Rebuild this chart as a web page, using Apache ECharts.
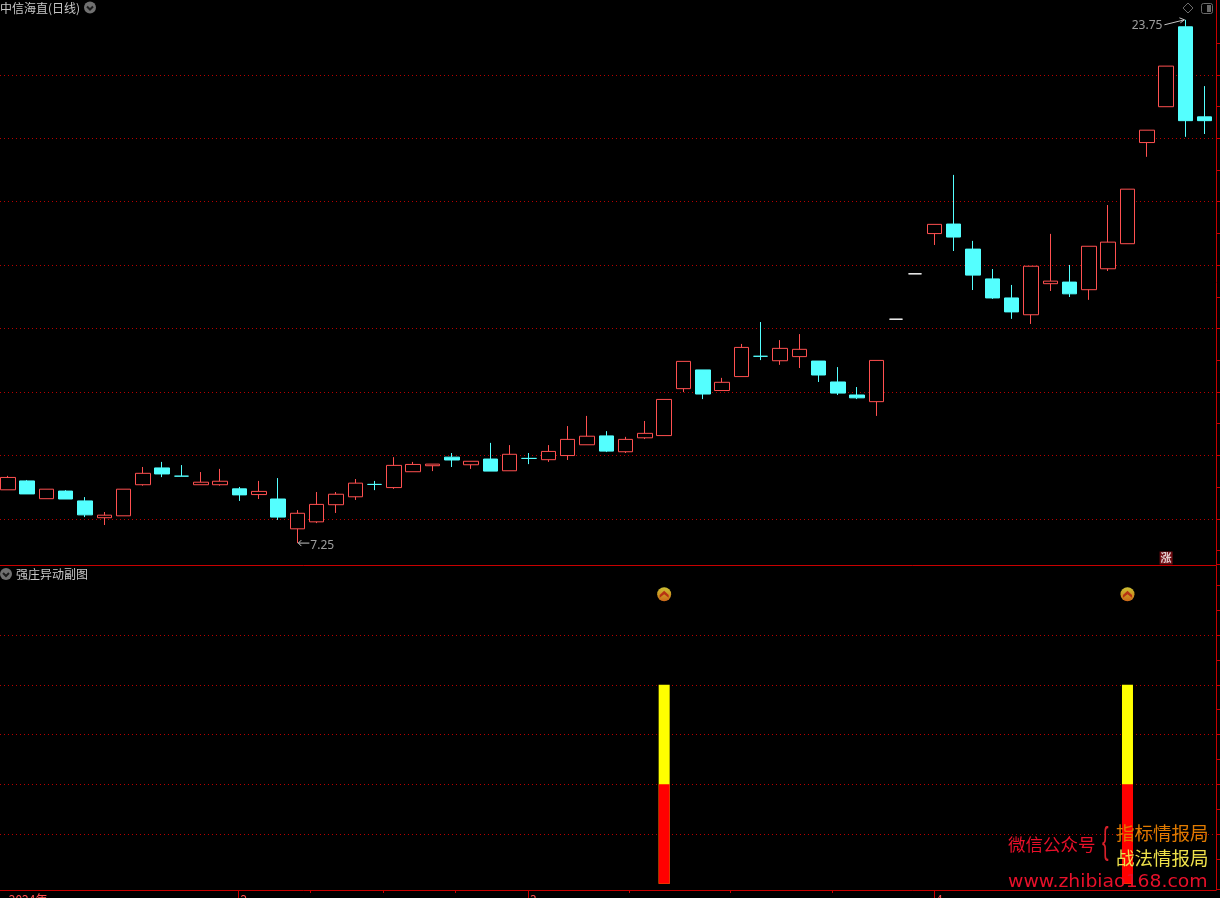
<!DOCTYPE html>
<html>
<head>
<meta charset="utf-8">
<style>html,body{margin:0;padding:0;background:#000;overflow:hidden}#c{width:1220px;height:898px}</style>
<script src="https://cdn.jsdelivr.net/npm/echarts@6/dist/echarts.min.js"></script>
</head>
<body>
<div id="c"></div>
<script>
// Daily prices, one entry per session (session number = array position)
const opens = [8.93,9.21,8.65,8.89,8.58,8.05,8.11,9.09,9.62,9.36,9.09,9.09,8.96,8.78,8.64,7.70,7.92,8.46,8.71,9.10,9.00,
  9.50,9.69,9.96,9.72,9.90,9.53,9.92,9.88,10.01,10.35,10.63,10.13,10.57,10.64,12.12,12.71,12.06,12.50,13.14,13.00,13.13,
  12.99,12.33,11.92,11.71,14.31,15.74,17.01,17.31,16.52,15.58,14.98,14.45,15.43,15.48,15.24,15.90,16.69,19.88,21.01,23.53,20.69];
const closes = [9.32,8.80,8.95,8.64,8.14,8.13,8.95,9.45,9.43,9.36,9.17,9.20,8.77,8.88,8.07,8.19,8.47,8.79,9.14,9.10,9.70,
  9.73,9.74,9.87,9.83,9.52,10.05,9.92,10.14,10.52,10.62,10.15,10.52,10.71,11.78,12.98,11.95,12.32,13.42,13.14,13.39,13.36,
  12.55,11.98,11.83,13.01,14.31,15.74,17.30,16.90,15.70,14.98,14.54,15.98,15.51,15.11,16.61,16.74,18.41,20.27,22.29,20.57,20.57];
const lows = [8.93,8.80,8.65,8.64,8.07,7.82,8.11,9.06,9.33,9.36,9.09,9.06,8.58,8.64,7.98,7.25,7.88,8.20,8.61,8.92,8.96,
  9.50,9.52,9.65,9.59,9.52,9.53,9.74,9.81,9.87,10.35,10.12,10.09,10.53,10.64,12.01,11.79,12.06,12.50,13.02,12.87,12.77,
  12.33,11.92,11.79,11.26,14.31,15.74,16.65,16.46,15.23,14.95,14.32,14.16,15.20,15.01,14.92,15.83,16.69,19.43,21.01,20.06,20.15];
const highs = [9.37,9.24,8.95,8.92,8.70,8.23,8.95,9.65,9.81,9.71,9.49,9.59,9.02,9.21,9.30,8.29,8.86,8.86,9.27,9.21,9.96,
  9.81,9.74,10.09,9.83,10.41,10.34,10.09,10.34,10.94,11.26,10.78,10.60,11.10,11.78,12.98,12.71,12.46,13.53,14.22,13.65,13.84,
  12.99,12.80,12.17,13.01,14.31,15.74,17.30,18.86,16.78,15.89,15.39,15.98,17.00,16.02,16.61,17.91,18.41,20.27,22.29,23.75,21.66];
const flatDays = [46,47];
const lowDay = 15, lowPrice = 7.25, highDay = 61, highPrice = 23.75;
const riseFlagDay = 60, riseFlagPrice = 6.78;

// Indicator panel
const signalDays = [34,58];
const redTops = [2,2];
const yellowTops = [4,4];
const signalLevel = 5.82;

// Axis ticks
const priceGrid = [8,10,12,14,16,18,20,22];
const priceMinor = [6.56,7,9,11,13,15,17,19,21,23];
const subGrid = [1,2,3,4,5];
const subMinor = [-0.11,0.5,1.5,2.5,3.5,4.5,5.5,6];
const majorTicks = [11.95,26.95,47.98];
const minorTicks = [15.68,19.44,23.19,32.2,37.43,42.72];
const labelSpots = [0.05,12.05,27.05,48.08];
const labelTexts = ['2024年','2','3','4'];

const RED='#ff5050', CYAN='#54ffff', AXIS='#c80000', GRID='#b80000';
const X_MIN=-0.404, X_MAX=62.585, P_MIN=6.543, P_MAX=24.361, S_MIN=-0.1236, S_MAX=6.389;
const candleAll = opens.map((o,i)=>[i,o,closes[i],lows[i],highs[i]]);
const candleMain = candleAll.filter(d=>!flatDays.includes(d[0]));
const candleFlat = candleAll.filter(d=>flatDays.includes(d[0]));

const chart = echarts.init(document.getElementById('c'),null,{renderer:'canvas'});
const ctext=(x,y,t,f,c,extra)=>({type:'text',x,y,silent:true,z:50,style:Object.assign({text:t,fontSize:f,fontFamily:'"Noto Sans CJK SC"',fill:c,textVerticalAlign:'middle',textAlign:'left'},extra||{})});
const badge=(x,y)=>([
  {type:'circle',shape:{cx:x,cy:y,r:6},style:{fill:'#707070'},silent:true,z:50},
  {type:'polyline',shape:{points:[[x-3,y-1],[x,y+2],[x+3,y-1]]},style:{stroke:'#1c1c1c',lineWidth:2,fill:null},silent:true,z:51}
]);

chart.setOption({
  animation:false,
  backgroundColor:'#000',
  grid:[
    {left:0,width:1216,top:0,height:565,outerBoundsMode:'none'},
    {left:0,width:1216,top:566,height:324,outerBoundsMode:'none'}
  ],
  xAxis:[
    {gridIndex:0,type:'value',position:'bottom',min:X_MIN,max:X_MAX,splitLine:{show:false},axisTick:{show:false},axisLabel:{show:false},
     axisLine:{show:true,onZero:false,lineStyle:{color:AXIS,width:1}}},
    {gridIndex:1,type:'value',position:'bottom',min:X_MIN,max:X_MAX,splitLine:{show:false},
     axisLine:{show:true,onZero:false,lineStyle:{color:AXIS,width:1}},
     axisTick:{show:true,customValues:majorTicks,length:9,lineStyle:{color:AXIS}},
     axisLabel:{show:true,customValues:labelSpots,margin:3,align:'left',verticalAlign:'top',hideOverlap:false,showMinLabel:true,
       color:RED,fontSize:12,fontFamily:'"Noto Sans CJK SC"',
       formatter:v=>labelTexts[labelSpots.indexOf(v)]||''}},
    {gridIndex:1,type:'value',position:'bottom',min:X_MIN,max:X_MAX,splitLine:{show:false},axisLabel:{show:false},
     axisLine:{show:false,onZero:false},
     axisTick:{show:true,customValues:minorTicks,length:3,lineStyle:{color:AXIS}}}
  ],
  yAxis:[
    {gridIndex:0,type:'value',position:'right',min:P_MIN,max:P_MAX,axisLabel:{show:false},
     axisLine:{show:true,onZero:false,lineStyle:{color:AXIS}},
     axisTick:{show:true,inside:false,length:4,customValues:priceGrid,lineStyle:{color:AXIS}},
     splitLine:{show:true,lineStyle:{color:GRID,type:[1,3],width:1}}},
    {gridIndex:0,type:'value',position:'right',min:P_MIN,max:P_MAX,axisLabel:{show:false},splitLine:{show:false},
     axisLine:{show:false,onZero:false},
     axisTick:{show:true,length:4,customValues:priceMinor,lineStyle:{color:AXIS}}},
    {gridIndex:1,type:'value',position:'right',min:S_MIN,max:S_MAX,axisLabel:{show:false},
     axisLine:{show:true,onZero:false,lineStyle:{color:AXIS}},
     axisTick:{show:true,length:4,customValues:subGrid,lineStyle:{color:AXIS}},
     splitLine:{show:true,lineStyle:{color:GRID,type:[1,3],width:1}}},
    {gridIndex:1,type:'value',position:'right',min:S_MIN,max:S_MAX,axisLabel:{show:false},splitLine:{show:false},
     axisLine:{show:false,onZero:false},
     axisTick:{show:true,length:4,customValues:subMinor,lineStyle:{color:AXIS}}},
    {gridIndex:0,type:'value',position:'right',show:false,min:P_MIN+0.016,max:P_MAX+0.014}
  ],
  series:[
    {type:'candlestick',name:'K',xAxisIndex:0,yAxisIndex:4,barWidth:15,z:3,clip:false,
     encode:{x:0,y:[1,2,3,4]},data:candleMain,
     itemStyle:{color:'#000',color0:CYAN,borderColor:RED,borderColor0:CYAN,borderColorDoji:CYAN,borderWidth:1}},
    {type:'candlestick',name:'flat',xAxisIndex:0,yAxisIndex:4,barWidth:14,z:3,clip:false,
     encode:{x:0,y:[1,2,3,4]},data:candleFlat,
     itemStyle:{color:'#fff',color0:'#fff',borderColor:'#fff',borderColor0:'#fff',borderColorDoji:'#fff',borderWidth:1}},
    {type:'scatter',name:'low',xAxisIndex:0,yAxisIndex:4,symbolSize:0,z:5,silent:true,data:[[lowDay,lowPrice]],
     label:{show:true,position:'right',distance:13,offset:[0,2],color:'#c4c4c4',fontSize:12,fontFamily:'"Noto Sans"',formatter:p=>String(p.value[1])}},
    {type:'scatter',name:'high',xAxisIndex:0,yAxisIndex:4,symbolSize:0,z:5,silent:true,data:[[highDay,highPrice]],
     label:{show:true,position:'left',distance:23,offset:[0,6],color:'#c4c4c4',fontSize:12,fontFamily:'"Noto Sans"',formatter:p=>String(p.value[1])}},
    {type:'scatter',name:'rise',xAxisIndex:0,yAxisIndex:4,symbol:'rect',symbolSize:13,z:5,silent:true,
     data:[[riseFlagDay,riseFlagPrice]],itemStyle:{color:'#8c0f16'},
     label:{show:true,position:'inside',formatter:'涨',color:'#fff',fontSize:11,fontWeight:'bold',fontFamily:'"Noto Sans CJK SC"'}},
    {type:'bar',name:'yellow',xAxisIndex:1,yAxisIndex:2,barWidth:11,barGap:'-100%',z:3,silent:true,
     data:signalDays.map((d,i)=>[d,yellowTops[i]]),itemStyle:{color:'#ffff00'}},
    {type:'bar',name:'red',xAxisIndex:1,yAxisIndex:2,barWidth:11,barGap:'-100%',z:4,silent:true,
     data:signalDays.map((d,i)=>[d,redTops[i]]),itemStyle:{color:'#ff0000'}},
    {type:'scatter',name:'signal',xAxisIndex:1,yAxisIndex:2,symbol:'circle',symbolSize:14,z:4,silent:true,
     data:signalDays.map(d=>[d,signalLevel]),
     itemStyle:{color:new echarts.graphic.LinearGradient(0,0,0,1,[{offset:0,color:'#fff040'},{offset:0.55,color:'#ffb828'},{offset:1,color:'#ff8020'}])}},
    {type:'scatter',name:'signalMark',xAxisIndex:1,yAxisIndex:2,symbol:'path://M0 6 L5 0 L10 6 L10 10 L5 5 L0 10 Z',symbolSize:[9,7],z:5,silent:true,
     data:signalDays.map(d=>[d,signalLevel]),itemStyle:{color:'#b01810'}}
  ]
});

const lowPt = chart.convertToPixel({xAxisIndex:0,yAxisIndex:4},[lowDay,lowPrice]);
const highPt = chart.convertToPixel({xAxisIndex:0,yAxisIndex:4},[highDay,highPrice]);
chart.setOption({graphic:[
  ctext(0,8,'中信海直(日线)',12,'#c8c8c8'),
  ctext(16,574,'强庄异动副图',12,'#c8c8c8'),
  ...badge(90,7.5),
  ...badge(6,574),
  {type:'polygon',shape:{points:[[1188,3],[1193,8],[1188,13],[1183,8]]},style:{fill:null,stroke:'#6a6a6a',lineWidth:1},silent:true,z:50},
  {type:'rect',shape:{x:1201.5,y:3.5,width:11,height:10,r:2},style:{fill:null,stroke:'#6a6a6a',lineWidth:1},silent:true,z:50},
  {type:'rect',shape:{x:1207,y:5,width:4,height:7},style:{fill:'#6a6a6a'},silent:true,z:50},
  // price-extreme arrows
  {type:'polyline',shape:{points:[[lowPt[0]+12,lowPt[1]],[lowPt[0]+1,lowPt[1]]]},style:{stroke:'#c4c4c4',fill:null,lineWidth:1},silent:true,z:50},
  {type:'polyline',shape:{points:[[lowPt[0]+4,lowPt[1]-3],[lowPt[0]+1,lowPt[1]],[lowPt[0]+4,lowPt[1]+3]]},style:{stroke:'#c4c4c4',fill:null,lineWidth:1},silent:true,z:50},
  {type:'polyline',shape:{points:[[highPt[0]-21,highPt[1]+5],[highPt[0]-1,highPt[1]]]},style:{stroke:'#c4c4c4',fill:null,lineWidth:1},silent:true,z:50},
  {type:'polyline',shape:{points:[[highPt[0]-6,highPt[1]-2],[highPt[0]-1,highPt[1]],[highPt[0]-5,highPt[1]+3]]},style:{stroke:'#c4c4c4',fill:null,lineWidth:1},silent:true,z:50},
  // watermark
  ctext(1008,844,'微信公众号',17.5,'#e8102a'),
  {type:'text',x:1102,y:843,scaleX:0.55,silent:true,z:50,style:{text:'{',fontSize:36,fontFamily:'"Liberation Sans"',fill:'#d8202a',textVerticalAlign:'middle',textAlign:'left'}},
  ctext(1116,833,'指标情报局',18.5,'#e07a00'),
  ctext(1116,857.5,'战法情报局',18.5,'#eee04a'),
  {type:'text',x:1008,y:882,scaleX:1.045,silent:true,z:50,style:{text:'www.zhibiao168.com',fontSize:18,fontFamily:'"DejaVu Sans"',fill:'#e8102a',textVerticalAlign:'middle',textAlign:'left'}}
]});
</script>
</body>
</html>
